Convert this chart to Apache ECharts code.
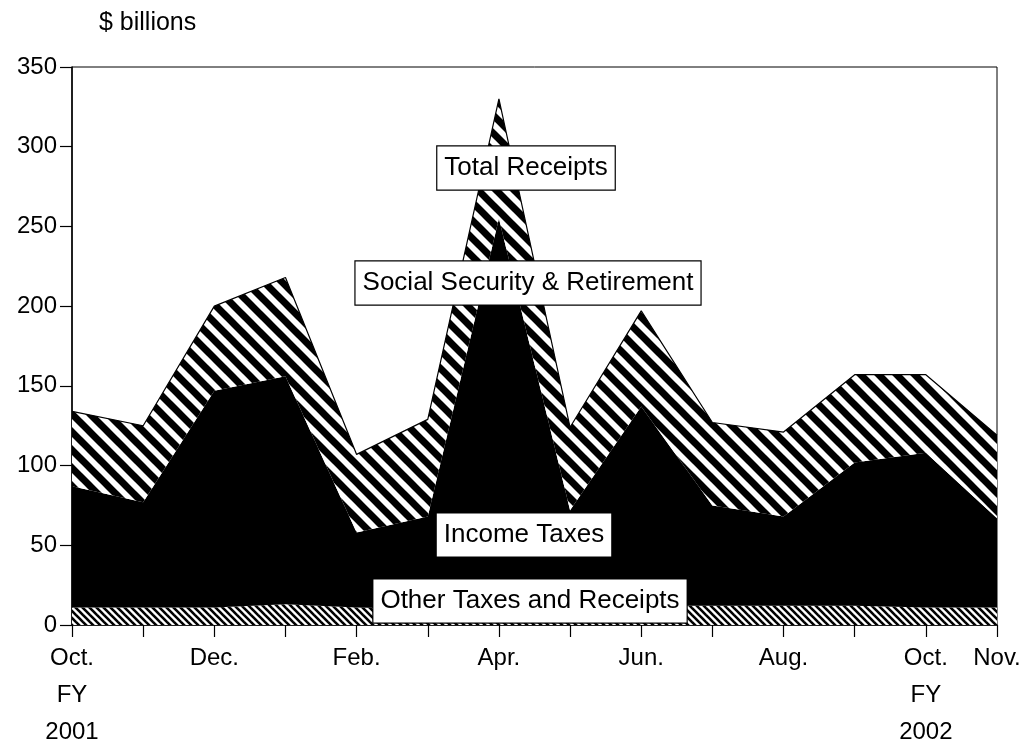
<!DOCTYPE html>
<html>
<head>
<meta charset="utf-8">
<script src="https://cdn.jsdelivr.net/npm/echarts@6/dist/echarts.min.js"></script>
<style>
  html, body { margin: 0; padding: 0; background: #fff; }
  #chart { width: 1028px; height: 741px; }
</style>
</head>
<body>
<div id="chart"></div>
<script>
// months of FY2001 plus Oct/Nov of FY2002
var months = ['Oct.', 'Nov.', 'Dec.', 'Jan.', 'Feb.', 'Mar.', 'Apr.', 'May', 'Jun.', 'Jul.', 'Aug.', 'Sep.', 'Oct.', 'Nov.'];
var tickLabels = ['Oct.\nFY\n2001', '', 'Dec.', '', 'Feb.', '', 'Apr.', '', 'Jun.', '', 'Aug.', '', 'Oct.\nFY\n2002', 'Nov.'];

// stacked components, $ billions
var otherTaxes     = [11, 11, 11, 13, 11, 10, 11, 11, 12, 12, 12, 12, 11, 11];
var incomeTaxes    = [76, 66, 136, 143, 47, 58, 244, 61, 125, 63, 56, 90, 97, 56];
var socialSecurity = [47, 48, 53, 62, 49, 61, 75, 52, 60, 52, 53, 55, 49, 52];

var yTicks = { min: 0, max: 350, step: 50 };

/* Build a repeating "\\\" hatch tile for the area fills */
function hatch(size, band) {
    var c = document.createElement('canvas');
    c.width = size;
    c.height = size;
    var g = c.getContext('2d');
    g.fillStyle = '#fff';
    g.fillRect(0, 0, size, size);
    g.strokeStyle = '#000';
    g.lineWidth = band;
    for (var k = -1; k <= 1; k++) {
        g.beginPath();
        g.moveTo(k * size - size, -size);
        g.lineTo(k * size + 2 * size, 2 * size);
        g.stroke();
    }
    return { image: c, repeat: 'repeat' };
}

var font = 'Liberation Sans, Arial, Helvetica, sans-serif';

function boxLabel(x, y, txt) {
    return {
        type: 'text',
        x: x,
        y: y,
        z: 100,
        style: {
            text: txt,
            font: '26px ' + font,
            fill: '#000',
            align: 'center',
            verticalAlign: 'middle',
            backgroundColor: '#fff',
            borderColor: '#000',
            borderWidth: 1.2,
            padding: [9, 7, 8, 7]
        }
    };
}

var chart = echarts.init(document.getElementById('chart'));

var option = {
    animation: false,
    backgroundColor: '#fff',
    textStyle: { fontFamily: font, color: '#000' },
    title: {
        text: '$ billions',
        left: 94,
        top: 6,
        textStyle: { fontSize: 25, fontWeight: 'normal', color: '#000', fontFamily: font }
    },
    grid: {
        left: 72, right: 31, top: 67, bottom: 116,
        containLabel: false,
        outerBoundsMode: 'none',
        show: true,
        borderColor: '#000',
        borderWidth: 1
    },
    xAxis: {
        type: 'category',
        boundaryGap: false,
        data: months,
        axisLine: { lineStyle: { color: '#000', width: 1.5 } },
        axisTick: { show: true, interval: 0, length: 12, lineStyle: { color: '#000', width: 1.2 } },
        axisLabel: {
            interval: 0,
            margin: 15,
            fontSize: 24,
            lineHeight: 37,
            color: '#000',
            formatter: function (v, i) { return tickLabels[i]; }
        },
        splitLine: { show: false }
    },
    yAxis: {
        type: 'value',
        min: yTicks.min,
        max: yTicks.max,
        interval: yTicks.step,
        axisLine: { show: true, lineStyle: { color: '#000', width: 1.5 } },
        axisTick: { show: true, length: 12, lineStyle: { color: '#000', width: 1.2 } },
        axisLabel: { fontSize: 24, color: '#000', margin: 15 },
        splitLine: { show: false }
    },
    series: [
        {
            name: 'Other Taxes and Receipts',
            type: 'line',
            stack: 'total',
            data: otherTaxes,
            showSymbol: false,
            lineStyle: { width: 0 },
            areaStyle: { color: hatch(7, 2.6), opacity: 1 }
        },
        {
            name: 'Income Taxes',
            type: 'line',
            stack: 'total',
            data: incomeTaxes,
            showSymbol: false,
            lineStyle: { width: 0 },
            areaStyle: { color: '#000', opacity: 1 }
        },
        {
            name: 'Social Security & Retirement',
            type: 'line',
            stack: 'total',
            data: socialSecurity,
            showSymbol: false,
            lineStyle: { color: '#000', width: 1.2 },
            areaStyle: { color: hatch(18, 7), opacity: 1 }
        }
    ],
    graphic: [
        boxLabel(526, 168, 'Total Receipts'),
        boxLabel(528, 283, 'Social Security & Retirement'),
        boxLabel(524, 535, 'Income Taxes'),
        boxLabel(530, 601, 'Other Taxes and Receipts')
    ]
};

chart.setOption(option);
</script>
</body>
</html>
